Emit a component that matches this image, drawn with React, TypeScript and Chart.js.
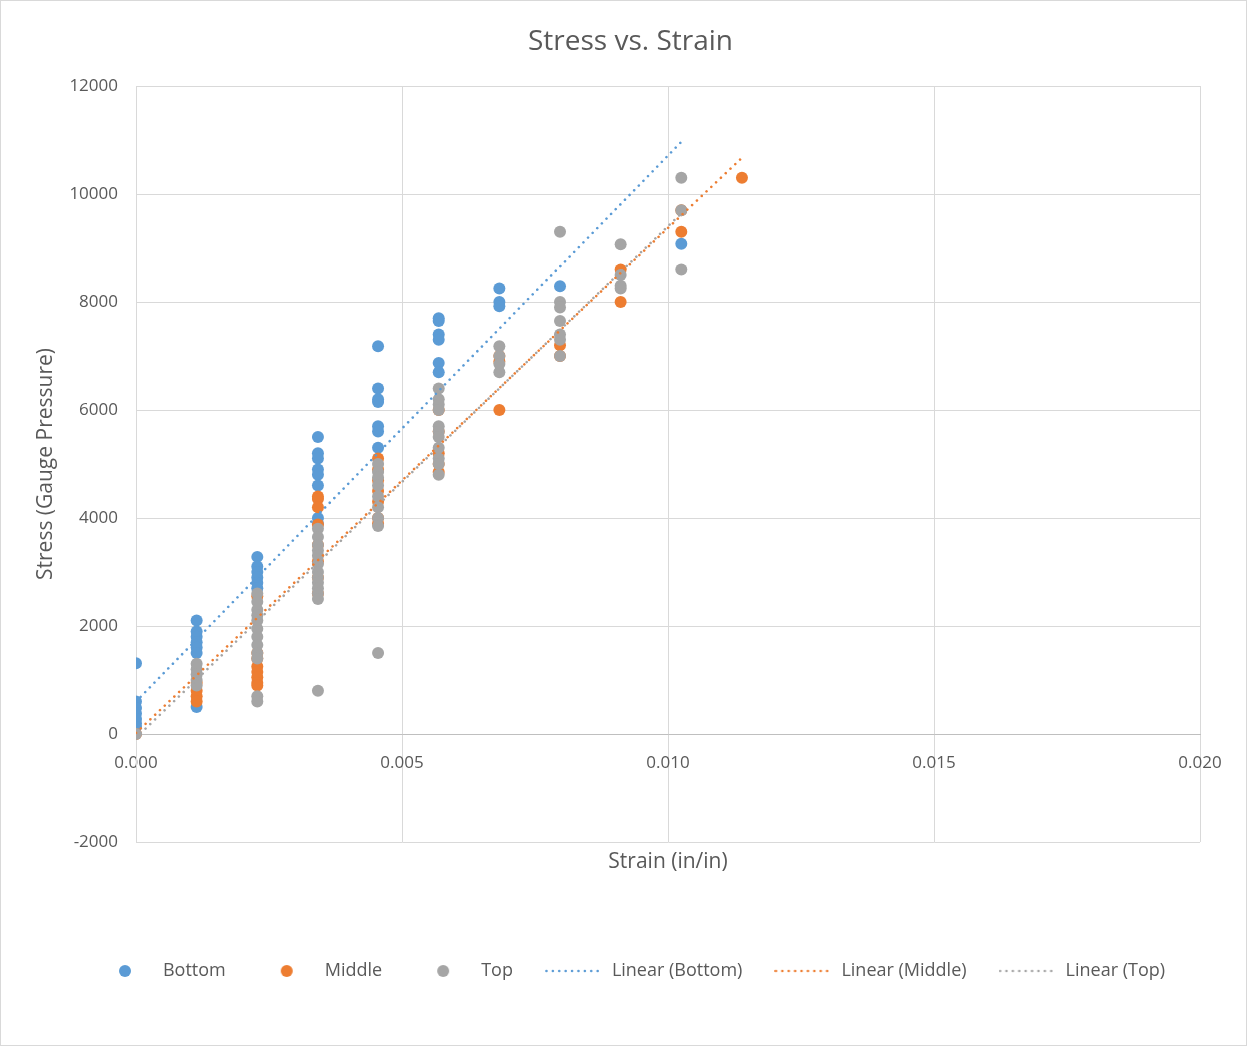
import React, { useEffect, useRef } from "react";
import { Chart, registerables } from "chart.js";

Chart.register(...registerables);

// ---- Data (strain in in/in, stress in gauge pressure) ----
const seriesNames = ["Bottom", "Middle", "Top"];
const trendNames = ["Linear (Bottom)", "Linear (Middle)", "Linear (Top)"];
const seriesColors = ["#5B9BD5", "#ED7D31", "#A5A5A5"];

const strainLevels = [0, 0.00114, 0.00228, 0.00342, 0.00455, 0.00569, 0.00683, 0.00797, 0.00911, 0.01025, 0.01139];

// stress readings grouped per strain level index
const bottomStress: number[][] = [
  [1310, 600, 480, 380, 280, 200, 130],
  [2100, 1900, 1800, 1700, 1600, 1500, 500],
  [3280, 3100, 3000, 2900, 2800, 2700],
  [5500, 5200, 5100, 4900, 4800, 4600, 4000, 3900],
  [7180, 6400, 6200, 6150, 5700, 5600, 5300],
  [7700, 7650, 7400, 7300, 6870, 6700],
  [8250, 8000, 7920],
  [8290],
  [],
  [9080],
  [],
];

const middleStress: number[][] = [
  [0],
  [950, 800, 700, 600],
  [2550, 1500, 1400, 1250, 1150, 1050, 950, 900],
  [4400, 4350, 4200, 3880, 3500, 3200, 2900, 2600],
  [5100, 4900, 4700, 4500, 4300, 4000, 3900],
  [6000, 5600, 5200, 5000, 4850],
  [7000, 6900, 6000],
  [7200, 7000],
  [8600, 8000],
  [9300, 9700],
  [10300],
];

const topStress: number[][] = [
  [0],
  [1300, 1200, 1100, 1000, 900],
  [2600, 2450, 2300, 2200, 2100, 1950, 1800, 1650, 1500, 1400, 700, 600],
  [3800, 3650, 3500, 3400, 3300, 3150, 3000, 2900, 2800, 2700, 2600, 2500, 800],
  [5000, 4850, 4750, 4600, 4400, 4200, 4000, 3850, 1500],
  [6400, 6200, 6100, 6000, 5700, 5600, 5500, 5300, 5100, 5000, 4800],
  [7180, 7000, 6850, 6700],
  [9300, 8000, 7900, 7650, 7400, 7300, 7000],
  [9070, 8500, 8300, 8250],
  [10300, 9700, 8600],
  [],
];

// linear trendline end points
const trendBottomX = [0, 0.01026];
const trendBottomY = [600, 10975];
const trendMiddleX = [0, 0.0114];
const trendMiddleY = [20, 10680];
const trendTopX = [0, 0.01026];
const trendTopY = [-70, 9650];

const xTicks = { min: 0, max: 0.02, step: 0.005 };
const yTicks = { min: -2000, max: 12000, step: 2000 };

const FONT = "'Open Sans', 'Liberation Sans', sans-serif";
const TEXT = "#595959";

function toPoints(groups: number[][]) {
  const pts: { x: number; y: number }[] = [];
  groups.forEach((vals, i) => vals.forEach((v) => pts.push({ x: strainLevels[i], y: v })));
  return pts;
}
function linePts(xs: number[], ys: number[]) {
  return xs.map((x, i) => ({ x, y: ys[i] }));
}

function circleImg(color: string) {
  const c = document.createElement("canvas");
  c.width = 14;
  c.height = 14;
  const ctx = c.getContext("2d")!;
  ctx.fillStyle = color;
  ctx.beginPath();
  ctx.arc(7, 7, 6, 0, Math.PI * 2);
  ctx.fill();
  return c;
}
function dottedImg(color: string) {
  const c = document.createElement("canvas");
  c.width = 58;
  c.height = 4;
  const ctx = c.getContext("2d")!;
  ctx.fillStyle = color;
  for (let x = 1.5; x < 58; x += 6.4) {
    ctx.beginPath();
    ctx.arc(x, 2, 1.3, 0, Math.PI * 2);
    ctx.fill();
  }
  return c;
}

export default function App() {
  const ref = useRef<HTMLCanvasElement | null>(null);
  useEffect(() => {
    if (!ref.current) return;
    const legendImgs = [
      ...seriesColors.map((c) => circleImg(c)),
      ...seriesColors.map((c) => dottedImg(c)),
    ];
    const stress = [bottomStress, middleStress, topStress];
    const trends = [
      linePts(trendBottomX, trendBottomY),
      linePts(trendMiddleX, trendMiddleY),
      linePts(trendTopX, trendTopY),
    ];
    const datasets: any[] = [
      ...seriesNames.map((name, i) => ({
        label: name,
        data: toPoints(stress[i]),
        backgroundColor: seriesColors[i],
        borderColor: seriesColors[i],
        pointRadius: 6,
        pointBorderWidth: 0,
        showLine: false,
        order: 6 - i,
      })),
      ...trendNames.map((name, i) => ({
        label: name,
        data: trends[i],
        borderColor: seriesColors[i],
        backgroundColor: seriesColors[i],
        showLine: true,
        pointRadius: 0,
        borderWidth: 2.6,
        borderCapStyle: "round",
        borderDash: [0.01, 6.6],
        fill: false,
        order: 3 - i,
      })),
    ];
    const chart = new Chart(ref.current, {
      type: "scatter",
      data: { datasets },
      options: {
        animation: false,
        responsive: false,
        maintainAspectRatio: false,
        layout: { padding: { left: 60, right: 46, top: 0, bottom: 55 } },
        plugins: {
          tooltip: { enabled: false },
          title: {
            display: true,
            text: "Stress vs. Strain",
            color: TEXT,
            font: { family: FONT, size: 28, weight: "normal" },
            padding: { top: 24.2, bottom: 27.2 },
          },
          legend: {
            position: "bottom",
            labels: {
              usePointStyle: true,
              pointStyleWidth: 58,
              padding: 32,
              color: TEXT,
              font: { family: FONT, size: 18 },
              generateLabels: (ch: any) =>
                ch.data.datasets.map((ds: any, i: number) => ({
                  text: ds.label,
                  fillStyle: seriesColors[i % 3],
                  strokeStyle: seriesColors[i % 3],
                  lineWidth: 0,
                  pointStyle: legendImgs[i],
                  hidden: false,
                  datasetIndex: i,
                  fontColor: TEXT,
                })),
            },
          },
        },
        scales: {
          x: {
            type: "linear",
            position: { y: 0 } as any,
            min: xTicks.min,
            max: xTicks.max,
            ticks: {
              stepSize: xTicks.step,
              padding: 19,
              color: TEXT,
              font: { family: FONT, size: 17 },
              callback: (v: any) => Number(v).toFixed(3),
            },
            grid: { color: "#d9d9d9", drawTicks: false },
            border: { color: "#bfbfbf", width: 1 },
          },
          x2: {
            type: "linear",
            position: "bottom",
            grid: { display: false, drawTicks: false },
            ticks: { display: false },
            border: { display: false },
            title: {
              display: true,
              text: "Strain (in/in)",
              color: TEXT,
              font: { family: FONT, size: 21 },
              padding: { top: 7.4, bottom: 55.4 },
            },
          },
          y: {
            type: "linear",
            min: yTicks.min,
            max: yTicks.max,
            ticks: {
              stepSize: yTicks.step,
              padding: 18,
              color: TEXT,
              font: { family: FONT, size: 17 },
              callback: (v: any) => String(v),
            },
            grid: { color: "#d9d9d9", drawTicks: false },
            border: { color: "#d9d9d9" },
            title: {
              display: true,
              text: "Stress (Gauge Pressure)",
              color: TEXT,
              font: { family: FONT, size: 21 },
              padding: { top: -27.6, bottom: 0 },
            },
            afterFit: (s: any) => {
              s.width = 75;
            },
          },
        },
      } as any,
    });
    return () => chart.destroy();
  }, []);
  return (
    <div
      style={{
        position: "absolute",
        left: 0,
        top: 0,
        width: 1247,
        height: 1046,
        boxSizing: "border-box",
        border: "1px solid #d9d9d9",
        background: "#fff",
      }}
    >
      <canvas ref={ref} width={1245} height={1044} style={{ display: "block", width: 1245, height: 1044 }} />
    </div>
  );
}
